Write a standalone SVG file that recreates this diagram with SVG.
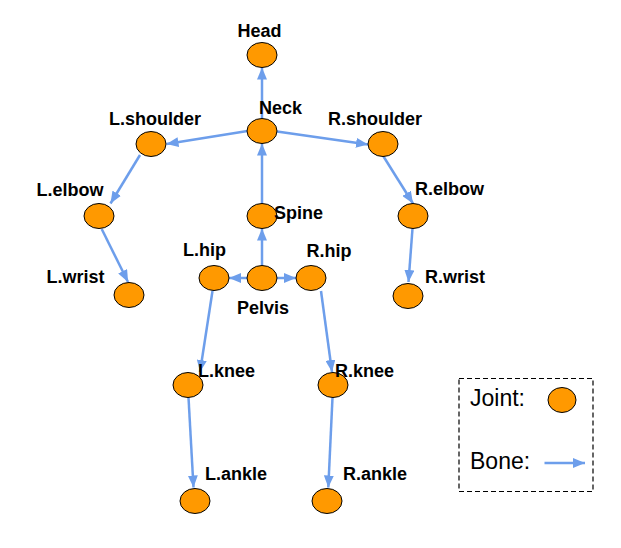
<svg xmlns="http://www.w3.org/2000/svg" width="621" height="548" viewBox="0 0 621 548">
<style>
.j{fill:#ff9900;stroke:#000;stroke-width:1}
.b{stroke:#6d9eeb;stroke-width:2.5;fill:none;marker-end:url(#ah)}
.lbl{font-family:"Liberation Sans",Arial,sans-serif;font-weight:bold;font-size:18px;fill:#000}
.leg{font-family:"Liberation Sans",Arial,sans-serif;font-size:23px;fill:#000}
</style>
<defs>
<marker id="ah" markerUnits="userSpaceOnUse" viewBox="0 0 12 10" markerWidth="12" markerHeight="10" refX="12" refY="5" orient="auto">
<path d="M0,0 L12,5 L0,10 z" fill="#6d9eeb"/>
</marker>
</defs>
<rect width="621" height="548" fill="#fff"/>
<g id="bones">
<line class="b" x1="262" y1="118.5" x2="262" y2="67.5"/>
<line class="b" x1="247.5" y1="131" x2="166.5" y2="144"/>
<line class="b" x1="277" y1="131.5" x2="368" y2="144.5"/>
<line class="b" x1="262" y1="203.5" x2="262" y2="143.5"/>
<line class="b" x1="262" y1="265.5" x2="262" y2="228.5"/>
<line class="b" x1="247" y1="278" x2="229" y2="278"/>
<line class="b" x1="277" y1="278" x2="296" y2="278"/>
<line class="b" x1="140" y1="155" x2="110.5" y2="203.5"/>
<line class="b" x1="101.7" y1="229" x2="128" y2="282"/>
<line class="b" x1="383.5" y1="156.5" x2="413" y2="203.5"/>
<line class="b" x1="412.5" y1="228.5" x2="408.5" y2="282"/>
<line class="b" x1="212.5" y1="291" x2="200" y2="372"/>
<line class="b" x1="188.5" y1="397.5" x2="193.5" y2="487.5"/>
<line class="b" x1="321" y1="291" x2="332" y2="372"/>
<line class="b" x1="332.5" y1="397.5" x2="328.3" y2="487.5"/>
</g>
<g id="head"><ellipse class="j" cx="262" cy="55" rx="15" ry="12.5"/><text class="lbl" x="237.5" y="37">Head</text></g>
<g id="neck"><ellipse class="j" cx="262" cy="131" rx="15" ry="12.5"/><text class="lbl" x="259" y="114">Neck</text></g>
<g id="l_shoulder"><ellipse class="j" cx="151" cy="144" rx="15" ry="12.5"/><text class="lbl" x="109" y="125">L.shoulder</text></g>
<g id="r_shoulder"><ellipse class="j" cx="383" cy="144" rx="15" ry="12.5"/><text class="lbl" x="328" y="125">R.shoulder</text></g>
<g id="spine"><ellipse class="j" cx="262" cy="216" rx="15" ry="12.5"/><text class="lbl" x="274" y="219">Spine</text></g>
<g id="l_elbow"><ellipse class="j" cx="99" cy="216" rx="15" ry="12.5"/><text class="lbl" x="36.5" y="196">L.elbow</text></g>
<g id="r_elbow"><ellipse class="j" cx="413" cy="216" rx="15" ry="12.5"/><text class="lbl" x="415" y="195">R.elbow</text></g>
<g id="l_wrist"><ellipse class="j" cx="129" cy="295" rx="15" ry="12.5"/><text class="lbl" x="46.5" y="283">L.wrist</text></g>
<g id="r_wrist"><ellipse class="j" cx="408" cy="296" rx="15" ry="12.5"/><text class="lbl" x="425" y="283">R.wrist</text></g>
<g id="pelvis"><ellipse class="j" cx="262" cy="278" rx="15" ry="12.5"/><text class="lbl" x="237" y="314">Pelvis</text></g>
<g id="l_hip"><ellipse class="j" cx="214" cy="278" rx="15" ry="12.5"/><text class="lbl" x="183" y="256">L.hip</text></g>
<g id="r_hip"><ellipse class="j" cx="311" cy="278" rx="15" ry="12.5"/><text class="lbl" x="306.5" y="256.5">R.hip</text></g>
<g id="l_knee"><ellipse class="j" cx="188" cy="385" rx="15" ry="12.5"/><text class="lbl" x="198" y="377">L.knee</text></g>
<g id="r_knee"><ellipse class="j" cx="333" cy="385" rx="15" ry="12.5"/><text class="lbl" x="335" y="377">R.knee</text></g>
<g id="l_ankle"><ellipse class="j" cx="195" cy="501" rx="15" ry="12.5"/><text class="lbl" x="205" y="480">L.ankle</text></g>
<g id="r_ankle"><ellipse class="j" cx="327" cy="501" rx="15" ry="12.5"/><text class="lbl" x="343" y="480">R.ankle</text></g>
<g id="legend">
<rect x="459" y="378.5" width="134" height="113" fill="none" stroke="#000" stroke-width="1.2" stroke-dasharray="5,3"/>
<text class="leg" x="470" y="405.5">Joint:</text>
<ellipse class="j" cx="562" cy="400" rx="14" ry="12.5"/>
<text class="leg" x="470" y="468.5">Bone:</text>
<line class="b" x1="544.5" y1="463" x2="585" y2="463"/>
</g>
</svg>
